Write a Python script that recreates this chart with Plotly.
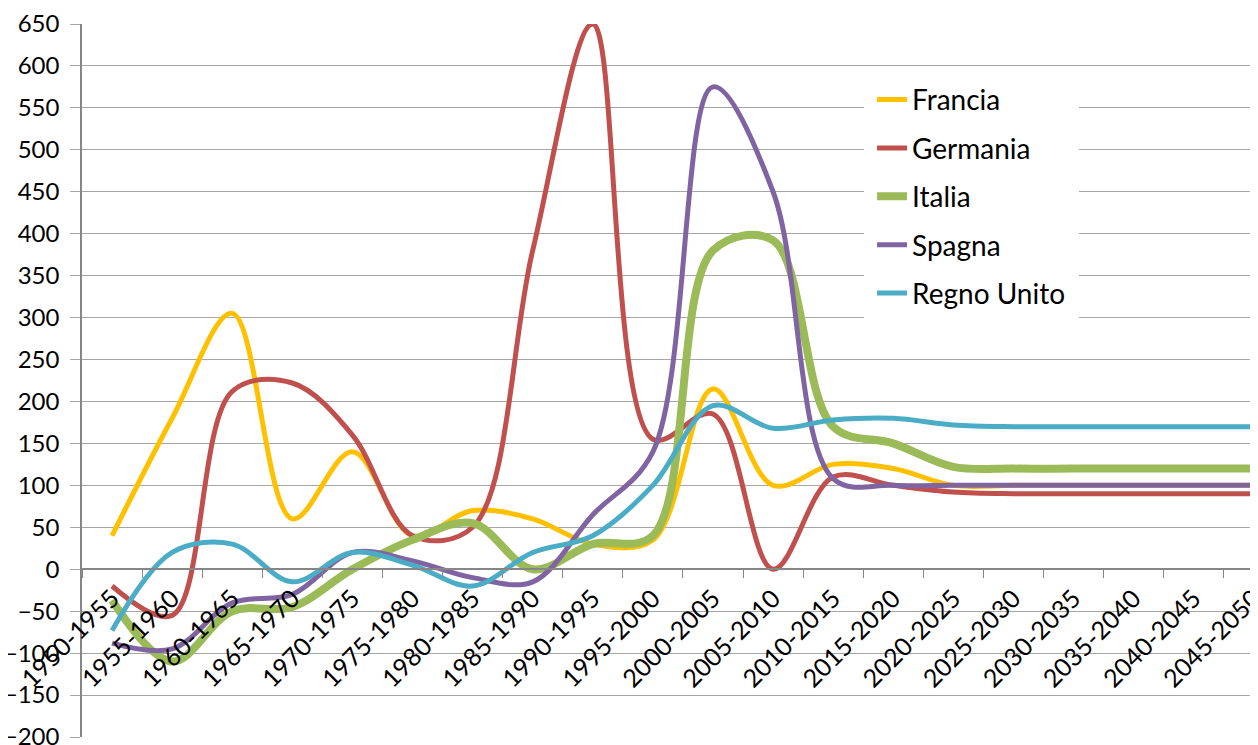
import plotly.graph_objects as go

periodi = ['1950-1955', '1955-1960', '1960-1965', '1965-1970', '1970-1975',
           '1975-1980', '1980-1985', '1985-1990', '1990-1995', '1995-2000',
           '2000-2005', '2005-2010', '2010-2015', '2015-2020', '2020-2025',
           '2025-2030', '2030-2035', '2035-2040', '2040-2045', '2045-2050']

francia = [40, 180, 305, 60, 140, 40, 70, 60, 30, 35,
           215, 100, 125, 120, 100, 100, 100, 100, 100, 100]
germania = [-20, -55, 212, 222, 160, 40, 50, 380, 650, 155,
            185, 0, 110, 100, 92, 90, 90, 90, 90, 90]
italia = [-37, -110, -50, -45, 0, 35, 55, 0, 30, 40,
          380, 392, 170, 150, 122, 120, 120, 120, 120, 120]
spagna = [-88, -95, -40, -30, 20, 10, -10, -15, 65, 140,
          575, 450, 108, 100, 100, 100, 100, 100, 100, 100]
regno_unito = [-73, 20, 30, -15, 20, 5, -20, 20, 40, 100,
               195, 168, 178, 180, 172, 170, 170, 170, 170, 170]

serie = [
    ('Francia', francia, '#FFC000', 5),
    ('Germania', germania, '#C0504D', 5),
    ('Italia', italia, '#9BBB59', 8),
    ('Spagna', spagna, '#8064A2', 5),
    ('Regno Unito', regno_unito, '#4BACC6', 5),
]

font = 'Lato, Carlito, Calibri, sans-serif'

fig = go.Figure()
for nome, valori, colore, spessore in serie:
    fig.add_trace(go.Scatter(
        x=periodi, y=valori, name=nome, mode='lines',
        legendgroup=nome,
        line=dict(color=colore, width=spessore, shape='spline', smoothing=1.0),
    ))

ymin, ymax = -200, 650

# la pagina ha 8px di margine nel body; la figura sborda in basso come nell'originale
fig.update_layout(
    width=1250, height=760,
    margin=dict(l=74, r=0, t=16, b=31),
    paper_bgcolor='white', plot_bgcolor='white',
    font=dict(family=font, size=24, color='#000000'),
    showlegend=True,
    legend=dict(x=0.665, y=0.94, xanchor='left', yanchor='top',
                bgcolor='white', bordercolor='white', borderwidth=8,
                tracegroupgap=9, font=dict(size=28),
                traceorder='grouped'),
    xaxis=dict(type='category', range=[-0.5, 19.07],
               anchor='free', position=(0 - ymin) / (ymax - ymin),
               showline=True, linecolor='#868686', linewidth=1.5,
               ticks='outside', ticklen=8, tickcolor='#868686',
               tickson='boundaries', showgrid=False, zeroline=False,
               tickangle=-45, automargin=False, ticklabelstandoff=4,
               tickfont=dict(family=font, size=25, color='#000000')),
    yaxis=dict(range=[ymin, ymax], dtick=50, tick0=0,
               showline=True, linecolor='#868686', linewidth=1.5,
               ticks='outside', ticklen=10, tickcolor='#a6a6a6',
               showgrid=True, gridcolor='#a6a6a6', gridwidth=1.3,
               zeroline=False, automargin=False, ticklabelstandoff=6,
               tickfont=dict(family=font, size=24, color='#000000')),
)

fig.write_html('out.html')
